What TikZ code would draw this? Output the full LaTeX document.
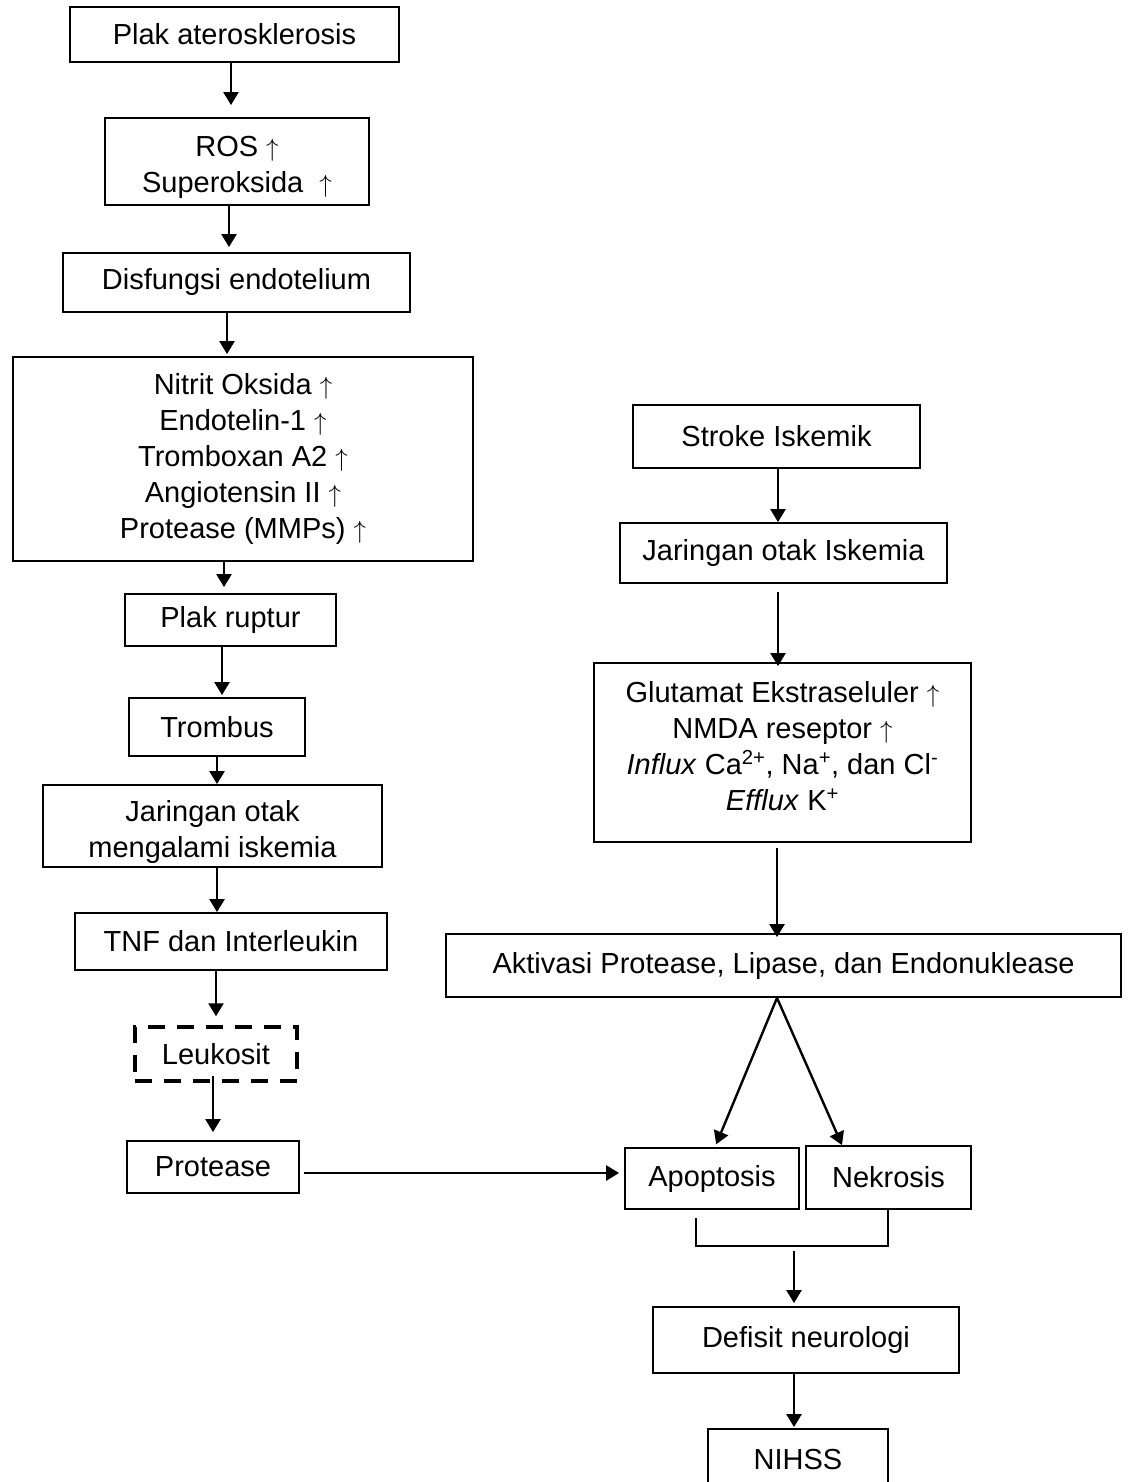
\documentclass[tikz,border=0pt]{standalone}
\usepackage{fontspec}
\setmainfont{Liberation Sans}
\usetikzlibrary{arrows.meta}
\newcommand{\padtop}[1]{\rule{0pt}{#1}}
\newcommand{\padbot}[1]{\rule[-#1]{0pt}{#1}}
\newcommand{\naik}{\ensuremath{\uparrow}}
\tikzset{
  every picture/.style={font=\fontsize{29}{36}\selectfont, line width=1.8pt},
  box/.style={draw, inner sep=0pt, align=center},
  dashbox/.style={box, line width=3.5pt, dash pattern=on 17pt off 12pt},
  arrow/.style={-{Triangle[length=13pt, width=15pt]}, line width=2.4pt},
  link/.style={line width=1.4pt},
}

\begin{document}
\begin{tikzpicture}[x=1pt, y=-1pt]
  \useasboundingbox (0,0) rectangle (1127,1482);
  % left column: plak to protease
  \node[box, minimum width=329pt, minimum height=55pt] (plak) at (234.5,34.5) {Plak aterosklerosis};
  \node[box, minimum width=264pt, minimum height=87pt] (ros) at (237,161.5) {\padtop{33pt}ROS \naik\\Superoksida\ \ \naik};
  \node[box, minimum width=347pt, minimum height=59pt] (disf) at (236.5,282.5) {Disfungsi endotelium};
  \node[box, minimum width=460pt, minimum height=204pt] (nitrit) at (243,459) {Nitrit Oksida \naik\\Endotelin-1 \naik\\Tromboxan A2 \naik\\Angiotensin II \naik\\Protease (MMPs) \naik};
  \node[box, minimum width=211pt, minimum height=52pt] (ruptur) at (230.5,620) {Plak ruptur};
  \node[box, minimum width=176pt, minimum height=58pt] (trombus) at (217,727) {Trombus};
  \node[box, minimum width=339pt, minimum height=82pt] (jaringan) at (212.5,826) {\padtop{33pt}Jaringan otak\\mengalami iskemia};
  \node[box, minimum width=312pt, minimum height=57pt] (tnf) at (231,941.5) {TNF dan Interleukin};
  \node[dashbox, minimum width=162pt, minimum height=54pt] (leuko) at (216,1054) {Leukosit};
  \node[box, minimum width=172pt, minimum height=52pt] (prot) at (213,1167) {Protease};
  % right column: stroke to NIHSS
  \node[box, minimum width=287pt, minimum height=63pt] (stroke) at (776.5,436.5) {Stroke Iskemik};
  \node[box, minimum width=327pt, minimum height=60pt] (iskemia) at (783.5,553) {Jaringan otak Iskemia};
  \node[box, minimum width=377pt, minimum height=179pt] (glut) at (782.5,752.5) {Glutamat Ekstraseluler \naik\\NMDA reseptor \naik\\\textit{Influx} Ca\textsuperscript{2+}, Na\textsuperscript{+}, dan Cl\textsuperscript{-}\\\textit{Efflux} K\textsuperscript{+}\padbot{14pt}};
  \node[box, minimum width=675pt, minimum height=63pt] (aktiv) at (783.5,965.5) {Aktivasi Protease, Lipase, dan Endonuklease};
  \node[box, minimum width=174pt, minimum height=61pt] (apop) at (712,1178.5) {Apoptosis};
  \node[box, minimum width=165pt, minimum height=63pt] (nekr) at (888.5,1177.5) {Nekrosis};
  \node[box, minimum width=306pt, minimum height=66pt] (defisit) at (806,1340) {Defisit neurologi};
  \node[box, minimum width=180pt, minimum height=60pt] (nihss) at (798,1459) {NIHSS};
  \coordinate (join) at (794,1246);

  % arrows, left
  \draw[arrow, shorten >=12pt] (plak.south -| 231,0) -- (ros.north -| 231,0);
  \draw[arrow, shorten >=5pt] (ros.south -| 229,0) -- (disf.north -| 229,0);
  \draw[arrow, shorten >=2pt] (disf.south -| 227,0) -- (nitrit.north -| 227,0);
  \draw[arrow, shorten >=6pt] (nitrit.south -| 224,0) -- (ruptur.north -| 224,0);
  \draw[arrow, shorten >=2pt] (ruptur.south -| 222,0) -- (trombus.north -| 222,0);
  \draw[arrow] (trombus.south -| 217,0) -- (jaringan.north -| 217,0);
  \draw[arrow] (jaringan.south -| 217,0) -- (tnf.north -| 217,0);
  \draw[arrow, shorten >=9pt] (tnf.south -| 216,0) -- (leuko.north -| 216,0);
  \draw[arrow, shorten <=-7pt, shorten >=8pt] (leuko.south -| 213,0) -- (prot.north -| 213,0);
  \draw[arrow, shorten <=4pt, shorten >=5pt] (prot.east |- 0,1173) -- (apop.west |- 0,1173);
  % arrows, right
  \draw[arrow] (stroke.south -| 778,0) -- (iskemia.north -| 778,0);
  \draw[arrow, shorten <=8pt, shorten >=-4pt] (iskemia.south -| 778,0) -- (glut.north -| 778,0);
  \draw[arrow, shorten <=5pt, shorten >=-4pt] (glut.south -| 777,0) -- (aktiv.north -| 777,0);
  \draw[arrow, shorten >=3pt] (aktiv.south -| 777,0) -- (apop.north -| 715,0);
  \draw[arrow] (aktiv.south -| 777,0) -- (nekr.north -| 842,0);
  \draw[link, shorten <=8pt] (apop.south -| 696,0) |- (join -| 888,0) -- (nekr.south -| 888,0);
  \draw[arrow, shorten <=5pt, shorten >=3pt] (join) -- (defisit.north -| join);
  \draw[arrow, shorten >=1pt] (defisit.south -| join) -- (nihss.north -| join);
\end{tikzpicture}
\end{document}
